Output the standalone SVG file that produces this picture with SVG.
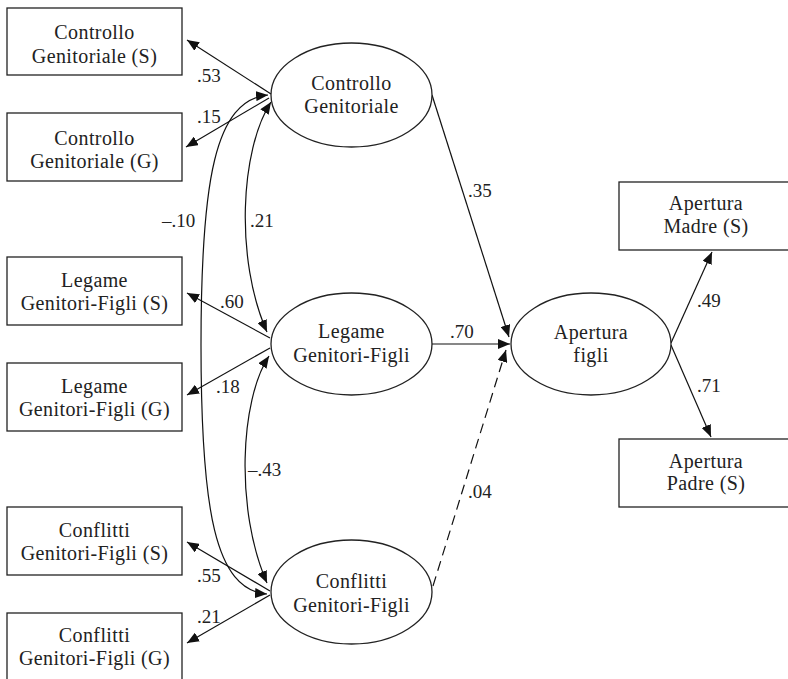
<svg xmlns="http://www.w3.org/2000/svg" width="788" height="679" viewBox="0 0 788 679" font-family="Liberation Serif, Times New Roman, serif">
<defs>
<marker id="ah" viewBox="0 0 12 10" refX="12" refY="5" markerWidth="12" markerHeight="10" markerUnits="userSpaceOnUse" orient="auto-start-reverse">
<path d="M0,0 L12,5 L0,10 Z" fill="#111"/>
</marker>
<style>
.box{fill:#fff;stroke:#222;stroke-width:1.3}
.ell{fill:#fff;stroke:#222;stroke-width:1.3}
.t{font-size:20px;letter-spacing:0.4px;fill:#222;text-anchor:middle}
.n{font-size:19px;fill:#222}
.c{fill:none;stroke:#111;stroke-width:1.2}
.d{stroke-dasharray:10 6}
</style>
</defs>
<rect width="788" height="679" fill="#fff"/>

<g id="connectors">
<line class="c" x1="271" y1="94" x2="187" y2="40" marker-end="url(#ah)"/>
<line class="c" x1="269" y1="98" x2="186" y2="147" marker-end="url(#ah)"/>
<line class="c" x1="270" y1="338" x2="187" y2="293" marker-end="url(#ah)"/>
<line class="c" x1="270" y1="348" x2="187" y2="395" marker-end="url(#ah)"/>
<line class="c" x1="270" y1="591" x2="187" y2="542" marker-end="url(#ah)"/>
<line class="c" x1="270" y1="595" x2="187" y2="643" marker-end="url(#ah)"/>
<path class="c" d="M268,95 C215,100 201,180 201,345 C201,510 215,590 267,594" marker-start="url(#ah)" marker-end="url(#ah)"/>
<path class="c" d="M271,102 C240,150 235,260 267,332" marker-start="url(#ah)" marker-end="url(#ah)"/>
<path class="c" d="M269,356 C240,400 235,510 267,583" marker-start="url(#ah)" marker-end="url(#ah)"/>
<line class="c" x1="432" y1="95" x2="509" y2="337" marker-end="url(#ah)"/>
<line class="c" x1="432" y1="344" x2="510" y2="344" marker-end="url(#ah)"/>
<line class="c d" x1="433" y1="586" x2="506" y2="350" marker-end="url(#ah)"/>
<line class="c" x1="671" y1="343" x2="712" y2="252" marker-end="url(#ah)"/>
<line class="c" x1="671" y1="345" x2="711" y2="437" marker-end="url(#ah)"/>
</g>

<g id="labels">
<text class="n" x="197" y="82">.53</text>
<text class="n" x="197" y="123">.15</text>
<text class="n" x="162" y="227">–.10</text>
<text class="n" x="250" y="227">.21</text>
<text class="n" x="220" y="308">.60</text>
<text class="n" x="216" y="393">.18</text>
<text class="n" x="248" y="476">–.43</text>
<text class="n" x="197" y="582">.55</text>
<text class="n" x="197" y="623">.21</text>
<text class="n" x="468" y="197">.35</text>
<text class="n" x="450" y="338">.70</text>
<text class="n" x="468" y="498">.04</text>
<text class="n" x="697" y="307">.49</text>
<text class="n" x="697" y="392">.71</text>
</g>

<g id="box-cg-s">
<rect class="box" x="7" y="8" width="175" height="67"/>
<text class="t" x="94.5" y="39">Controllo</text>
<text class="t" x="94.5" y="63">Genitoriale (S)</text>
</g>
<g id="box-cg-g">
<rect class="box" x="7" y="113" width="175" height="68"/>
<text class="t" x="94.5" y="145">Controllo</text>
<text class="t" x="94.5" y="168">Genitoriale (G)</text>
</g>
<g id="box-lg-s">
<rect class="box" x="7" y="257" width="175" height="68"/>
<text class="t" x="94.5" y="287">Legame</text>
<text class="t" x="94.5" y="310">Genitori-Figli (S)</text>
</g>
<g id="box-lg-g">
<rect class="box" x="7" y="363" width="175" height="68"/>
<text class="t" x="94.5" y="393">Legame</text>
<text class="t" x="94.5" y="416">Genitori-Figli (G)</text>
</g>
<g id="box-cf-s">
<rect class="box" x="7" y="507" width="175" height="68"/>
<text class="t" x="94.5" y="537">Conflitti</text>
<text class="t" x="94.5" y="560">Genitori-Figli (S)</text>
</g>
<g id="box-cf-g">
<rect class="box" x="7" y="613" width="175" height="75"/>
<text class="t" x="94.5" y="642">Conflitti</text>
<text class="t" x="94.5" y="665">Genitori-Figli (G)</text>
</g>

<g id="ell-cg">
<ellipse class="ell" cx="351.5" cy="95" rx="80.5" ry="52"/>
<text class="t" x="351.5" y="90">Controllo</text>
<text class="t" x="351.5" y="113">Genitoriale</text>
</g>
<g id="ell-lg">
<ellipse class="ell" cx="351.5" cy="344" rx="80.5" ry="51"/>
<text class="t" x="351.5" y="338">Legame</text>
<text class="t" x="351.5" y="362">Genitori-Figli</text>
</g>
<g id="ell-cf">
<ellipse class="ell" cx="351.5" cy="592" rx="80.5" ry="52"/>
<text class="t" x="351.5" y="588">Conflitti</text>
<text class="t" x="351.5" y="612">Genitori-Figli</text>
</g>
<g id="ell-af">
<ellipse class="ell" cx="591" cy="344" rx="80" ry="51"/>
<text class="t" x="591" y="339">Apertura</text>
<text class="t" x="591" y="362">figli</text>
</g>

<g id="box-am">
<rect class="box" x="619" y="182" width="175" height="68"/>
<text class="t" x="706" y="210">Apertura</text>
<text class="t" x="706" y="233">Madre (S)</text>
</g>
<g id="box-ap">
<rect class="box" x="619" y="439" width="175" height="68"/>
<text class="t" x="706" y="468">Apertura</text>
<text class="t" x="706" y="490">Padre (S)</text>
</g>
</svg>
